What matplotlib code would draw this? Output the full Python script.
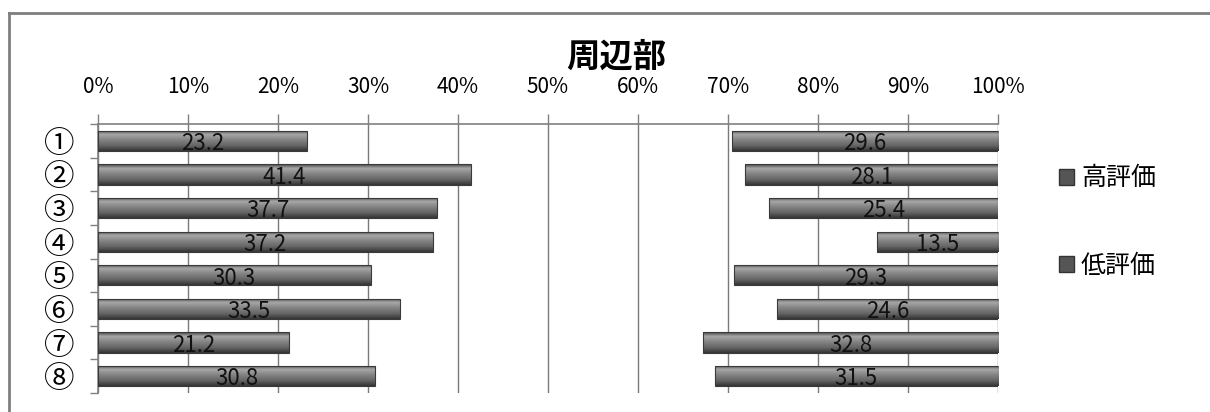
import numpy as np
import matplotlib
matplotlib.use("Agg")
import matplotlib.pyplot as plt
from matplotlib.colors import LinearSegmentedColormap
from matplotlib.lines import Line2D
from matplotlib.patches import Patch

plt.rcParams['font.family'] = ['Noto Sans CJK JP', 'DejaVu Sans']

# data
categories = ['①', '②', '③', '④', '⑤', '⑥', '⑦', '⑧']
high_eval = [23.2, 41.4, 37.7, 37.2, 30.3, 33.5, 21.2, 30.8]
low_eval = [29.6, 28.1, 25.4, 13.5, 29.3, 24.6, 32.8, 31.5]
series_names = ['高評価', '低評価']
x_ticks = [0, 10, 20, 30, 40, 50, 60, 70, 80, 90, 100]

middle = [100 - h - l for h, l in zip(high_eval, low_eval)]
y = np.arange(len(categories))

fig = plt.figure(figsize=(12.10, 4.12), dpi=100)
ax = fig.add_axes([98 / 1210, 1 - 393 / 412, 900 / 1210, 269 / 412])

bar_h = 0.6
c_high = ax.barh(y, high_eval, height=bar_h, color='none', edgecolor='#3a3a3a', lw=0.8, zorder=3)
ax.barh(y, middle, left=high_eval, height=bar_h, color='none', lw=0, zorder=3)
left_low = [h + m for h, m in zip(high_eval, middle)]
c_low = ax.barh(y, low_eval, left=left_low, height=bar_h, color='none', edgecolor='#3a3a3a', lw=0.8, zorder=3)

# cylinder-like shading on each visible bar
cmap = LinearSegmentedColormap.from_list('bar', [
    (0.0, '#454545'), (0.2, '#a8a8a8'), (0.45, '#858585'),
    (0.75, '#646464'), (1.0, '#343434')])
grad = np.linspace(0, 1, 64).reshape(-1, 1)
for cont in (c_high, c_low):
    for p in cont.patches:
        x0, y0 = p.get_x(), p.get_y()
        w, h = p.get_width(), p.get_height()
        im = ax.imshow(grad, extent=(x0, x0 + w, y0 + h, y0), origin='upper',
                       aspect='auto', cmap=cmap, zorder=2.5, interpolation='bilinear')
        im.set_clip_path(p)

for cont, vals in ((c_high, high_eval), (c_low, low_eval)):
    labels = ax.bar_label(cont, labels=[f"{v}" for v in vals], label_type='center',
                          fontsize=16, color='#111111', zorder=5)
    for t in labels:
        t.xyann = (0, -2)  # labels sit a touch low in the original

ax.set_xlim(0, 100)
ax.set_ylim(len(categories) - 0.5, -0.5)
ax.set_xticks(x_ticks)
ax.set_xticklabels([f"{t}%" for t in x_ticks], fontsize=15)
ax.xaxis.tick_top()
ax.tick_params(axis='x', direction='out', length=7, width=1, color='#808080', pad=12)
ax.set_yticks(y)
ax.set_yticklabels(categories, fontsize=22)
ax.set_yticks(np.arange(len(categories) + 1) - 0.5, minor=True)
ax.tick_params(axis='y', which='major', length=0, pad=17)
ax.tick_params(axis='y', which='minor', length=6, width=1, color='#808080')
ax.grid(axis='x', color='#7a7a7a', lw=1, zorder=1)
ax.set_axisbelow(True)
for side in ('right', 'bottom'):
    ax.spines[side].set_visible(False)
for side in ('top', 'left'):
    ax.spines[side].set_color('#808080')
    ax.spines[side].set_linewidth(1.2)

fig.text(616 / 1210, 1 - 57 / 412, '周辺部', fontsize=24, fontweight='bold',
         ha='center', va='center')

handles = [Patch(facecolor='#555555', edgecolor='#333333', label=n) for n in series_names]
fig.legend(handles=handles, loc='center left', bbox_to_anchor=(1036 / 1210, 1 - 222 / 412),
           frameon=False, fontsize=18, labelspacing=2.45, handlelength=0.6,
           handleheight=0.6, handletextpad=0.3)

# outer chart frame (top and left edges visible)
fig.add_artist(Line2D([9 / 1210, 1], [1 - 13 / 412, 1 - 13 / 412], color='#7f7f7f', lw=2))
fig.add_artist(Line2D([9 / 1210, 9 / 1210], [0, 1 - 13 / 412], color='#7f7f7f', lw=2))

fig.savefig('out.png', dpi=100)
